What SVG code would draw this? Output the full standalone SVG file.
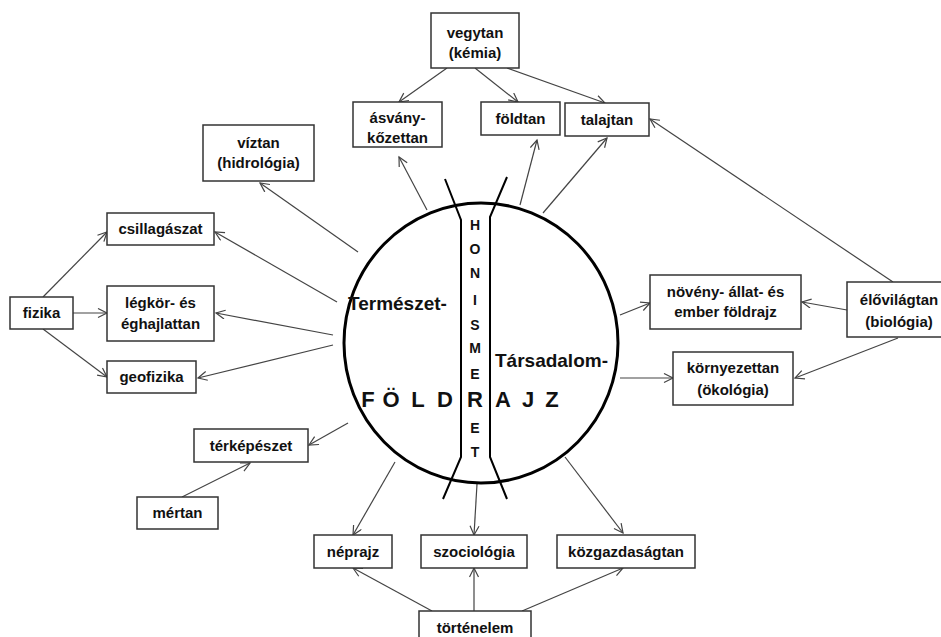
<svg xmlns="http://www.w3.org/2000/svg" width="941" height="637" viewBox="0 0 941 637">
<style>
.box{fill:#fff;stroke:#333;stroke-width:1.5}
.lbl{font-family:"Liberation Sans",Arial,sans-serif;font-weight:bold;font-size:15px;fill:#111;text-anchor:middle}
.big{font-family:"Liberation Sans",Arial,sans-serif;font-weight:bold;font-size:19px;fill:#111}
.fr{font-family:"Liberation Sans",Arial,sans-serif;font-weight:bold;font-size:22px;fill:#111;text-anchor:middle}
.hn{font-family:"Liberation Sans",Arial,sans-serif;font-weight:bold;font-size:14px;fill:#111;text-anchor:middle}
.con line{stroke:#444;stroke-width:1.2;marker-end:url(#ah)}
</style>
<defs>
<marker id="ah" markerUnits="userSpaceOnUse" markerWidth="12" markerHeight="12" refX="10" refY="5" orient="auto">
<path d="M1,0.5 L10,5 L1,9.5" fill="none" stroke="#444" stroke-width="1.2"/>
</marker>
</defs>
<rect width="941" height="637" fill="#fff"/>

<g id="connectors" class="con">
<line x1="447" y1="68" x2="399" y2="102"/>
<line x1="475" y1="68" x2="518" y2="102"/>
<line x1="507" y1="68" x2="605" y2="103"/>
<line x1="427" y1="210" x2="399" y2="157"/>
<line x1="520" y1="205" x2="537" y2="140"/>
<line x1="543" y1="213" x2="607" y2="138"/>
<line x1="893" y1="282" x2="650" y2="119"/>
<line x1="358" y1="252" x2="260" y2="183"/>
<line x1="337" y1="302" x2="215" y2="232"/>
<line x1="333" y1="335" x2="216" y2="313"/>
<line x1="333" y1="345" x2="198" y2="378"/>
<line x1="43" y1="297" x2="107" y2="232"/>
<line x1="73" y1="313" x2="107" y2="313"/>
<line x1="43" y1="329" x2="107" y2="377"/>
<line x1="348" y1="423" x2="309" y2="445"/>
<line x1="182" y1="497" x2="250" y2="463"/>
<line x1="395" y1="462" x2="353" y2="535"/>
<line x1="477" y1="484" x2="474" y2="535"/>
<line x1="565" y1="457" x2="623" y2="533"/>
<line x1="432" y1="611" x2="353" y2="568"/>
<line x1="474" y1="611" x2="474" y2="568"/>
<line x1="522" y1="611" x2="623" y2="568"/>
<line x1="620" y1="315" x2="650" y2="303"/>
<line x1="620" y1="378" x2="673" y2="378"/>
<line x1="847" y1="310" x2="802" y2="302"/>
<line x1="898" y1="338" x2="795" y2="378"/>
</g>

<g id="foldrajz">
<ellipse cx="481" cy="343" rx="137" ry="140" fill="none" stroke="#000" stroke-width="3"/>
<path d="M445,179 L461,220 L461,457 L443,499" fill="none" stroke="#000" stroke-width="2"/>
<path d="M507,177 L490,217 L490,457 L507,499" fill="none" stroke="#000" stroke-width="2"/>
<text class="big" x="348" y="310">Természet-</text>
<text class="big" x="495" y="367">Társadalom-</text>
<text class="fr" x="368" y="407">F</text>
<text class="fr" x="391" y="407">Ö</text>
<text class="fr" x="418" y="407">L</text>
<text class="fr" x="445" y="407">D</text>
<text class="fr" x="475" y="407">R</text>
<text class="fr" x="503" y="407">A</text>
<text class="fr" x="528" y="407">J</text>
<text class="fr" x="552" y="407">Z</text>
</g>

<g id="honismeret">
<text class="hn" x="475" y="230">H</text>
<text class="hn" x="475" y="254">O</text>
<text class="hn" x="475" y="278">N</text>
<text class="hn" x="475" y="305">I</text>
<text class="hn" x="475" y="330">S</text>
<text class="hn" x="475" y="353">M</text>
<text class="hn" x="475" y="379">E</text>
<text class="hn" x="475" y="433">E</text>
<text class="hn" x="475" y="457">T</text>
</g>

<g id="vegytan"><rect class="box" x="431" y="13" width="88" height="55"/><text class="lbl" x="475" y="38">vegytan</text><text class="lbl" x="475" y="58">(kémia)</text></g>
<g id="asvany"><rect class="box" x="353" y="102" width="89" height="45"/><text class="lbl" x="397.5" y="123">ásvány-</text><text class="lbl" x="397.5" y="143">kőzettan</text></g>
<g id="foldtan"><rect class="box" x="481" y="102" width="79" height="33"/><text class="lbl" x="520.5" y="123.5">földtan</text></g>
<g id="talajtan"><rect class="box" x="565" y="103" width="84" height="33"/><text class="lbl" x="607" y="124.5">talajtan</text></g>
<g id="viztan"><rect class="box" x="203" y="125" width="111" height="56"/><text class="lbl" x="258.5" y="148">víztan</text><text class="lbl" x="258.5" y="168">(hidrológia)</text></g>
<g id="csillagaszat"><rect class="box" x="107" y="213" width="107" height="32"/><text class="lbl" x="160.5" y="234">csillagászat</text></g>
<g id="legkor"><rect class="box" x="107" y="286" width="107" height="55"/><text class="lbl" x="160.5" y="308">légkör- és</text><text class="lbl" x="160.5" y="329">éghajlattan</text></g>
<g id="geofizika"><rect class="box" x="107" y="361" width="89" height="32"/><text class="lbl" x="151.5" y="382">geofizika</text></g>
<g id="fizika"><rect class="box" x="10" y="297" width="63" height="32"/><text class="lbl" x="41.5" y="318">fizika</text></g>
<g id="terkepeszet"><rect class="box" x="194" y="429" width="114" height="33"/><text class="lbl" x="251" y="450.5">térképészet</text></g>
<g id="mertan"><rect class="box" x="137" y="497" width="81" height="32"/><text class="lbl" x="177.5" y="518">mértan</text></g>
<g id="neprajz"><rect class="box" x="314" y="535" width="78" height="33"/><text class="lbl" x="353" y="556.5">néprajz</text></g>
<g id="szociologia"><rect class="box" x="421" y="535" width="106" height="33"/><text class="lbl" x="474" y="556.5">szociológia</text></g>
<g id="kozgazdasagtan"><rect class="box" x="557" y="535" width="138" height="33"/><text class="lbl" x="626" y="556.5">közgazdaságtan</text></g>
<g id="tortenelem"><rect class="box" x="419" y="611" width="112" height="36"/><text class="lbl" x="475" y="633">történelem</text></g>
<g id="noveny"><rect class="box" x="650" y="275" width="151" height="54"/><text class="lbl" x="725.5" y="297">növény- állat- és</text><text class="lbl" x="725.5" y="317">ember földrajz</text></g>
<g id="kornyezettan"><rect class="box" x="673" y="352" width="120" height="53"/><text class="lbl" x="733" y="373">környezettan</text><text class="lbl" x="733" y="395">(ökológia)</text></g>
<g id="elovilagtan"><rect class="box" x="847" y="282" width="104" height="55"/><text class="lbl" x="899" y="305">élővilágtan</text><text class="lbl" x="899" y="327">(biológia)</text></g>
</svg>
